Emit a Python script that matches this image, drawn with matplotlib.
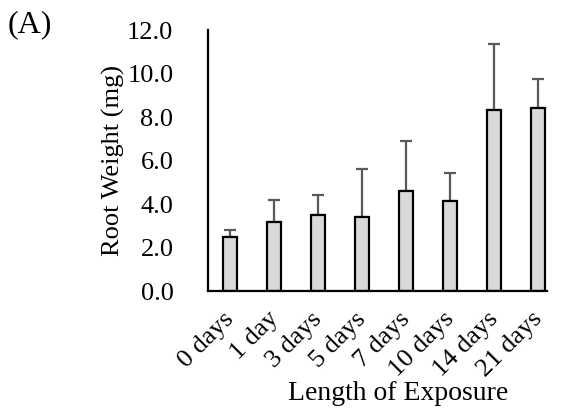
import matplotlib
matplotlib.use("Agg")
import matplotlib.pyplot as plt
from matplotlib.transforms import ScaledTranslation

categories = ["0 days", "1 day", "3 days", "5 days", "7 days", "10 days", "14 days", "21 days"]
root_weight = [2.50, 3.19, 3.49, 3.40, 4.61, 4.14, 8.32, 8.40]
std_err = [0.30, 1.00, 0.92, 2.21, 2.30, 1.27, 3.02, 1.33]
y_ticks = [0.0, 2.0, 4.0, 6.0, 8.0, 10.0, 12.0]

plt.rcParams["font.family"] = ["Liberation Serif", "DejaVu Serif"]
FS = 19

fig = plt.figure(figsize=(5.61, 4.17), dpi=100)
ax = fig.add_axes([0.371, 0.302, 0.604, 0.626])

x = list(range(len(categories)))
ax.bar(x, root_weight, width=0.32, color="#d9d9d9", edgecolor="black",
       linewidth=1.6, zorder=2)
ax.errorbar(x, root_weight, yerr=[[0] * len(std_err), std_err], fmt="none",
            ecolor="#595959", elinewidth=1.6, capsize=4.5, capthick=1.6, zorder=1)

ax.set_xlim(-0.5, 7.2)
ax.set_ylim(0, 12)
ax.set_yticks(y_ticks)
ax.set_yticklabels([f"{v:.1f}" for v in y_ticks], fontsize=FS)
ax.set_xticks(x)
ax.set_xticklabels(categories, rotation=45, ha="right", va="top",
                   rotation_mode="anchor", fontsize=FS)
ax.tick_params(axis="both", length=0)
ax.tick_params(axis="y", pad=25)
ax.tick_params(axis="x", pad=12)

# nudge the rotated category labels slightly to the left
shift = ScaledTranslation(-7 / 100, 0, fig.dpi_scale_trans)
for lbl in ax.get_xticklabels():
    lbl.set_transform(lbl.get_transform() + shift)

for side in ("top", "right"):
    ax.spines[side].set_visible(False)
ax.spines["left"].set_linewidth(1.6)
ax.spines["bottom"].set_linewidth(1.6)

ax.set_ylabel("Root Weight (mg)", fontsize=FS)
ax.yaxis.set_label_coords(-0.245, 0.5)
ax.set_xlabel("Length of Exposure", fontsize=20)
ax.xaxis.set_label_coords(0.56, -0.345)

fig.text(0.014, 0.975, "(A)", fontsize=23, ha="left", va="top")

fig.savefig("out.png", dpi=100)
